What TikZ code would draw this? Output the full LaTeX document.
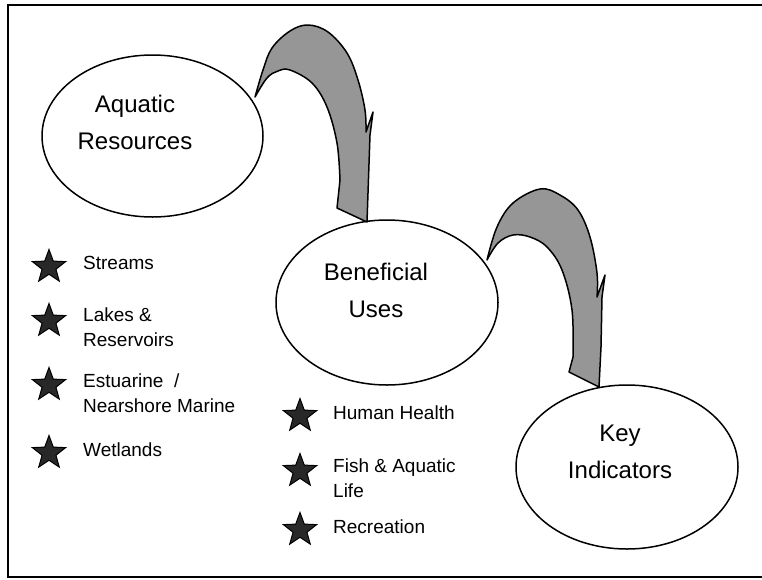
\documentclass[tikz,border=0pt]{standalone}
\usepackage{fontspec}
\setmainfont{Liberation Sans}
\usetikzlibrary{shapes.geometric}
\definecolor{arrowgray}{RGB}{150,150,150}
\definecolor{stargray}{RGB}{40,40,40}
\tikzset{
  bubble/.style={ellipse, draw=black, line width=1.5pt, inner sep=0pt, outer sep=0pt},
  bubbletext/.style={align=center, font=\fontsize{24}{37}\selectfont, inner sep=0pt},
  bulletstar/.style={star, star points=5, star point ratio=2.4, minimum size=35pt, inner sep=0pt, fill=stargray, draw=black, line width=1pt},
  itemtext/.style={anchor=west, align=left, font=\fontsize{19}{25.5}\selectfont, inner sep=0pt},
  bigarrow/.style={fill=arrowgray, draw=black, line width=1.5pt, line join=round},
}
\begin{document}
\begin{tikzpicture}[x=1pt,y=-1pt]
\useasboundingbox (0,0) rectangle (762,579);
\draw[line width=2.2pt] (8,5) rectangle (775,577);

% ellipses
\node[bubble, minimum width=221pt, minimum height=162pt] (aq) at (152.5,136) {};
\node[bubble, minimum width=222pt, minimum height=165pt] (bu) at (387,302.5) {};
\node[bubble, minimum width=222pt, minimum height=164pt] (ki) at (627,467) {};

\node[bubbletext] (aqt) at (135,122) {Aquatic\\Resources};
\node[bubbletext] (but) at (376,290) {Beneficial\\Uses};
\node[bubbletext] (kit) at (620,452) {Key\\Indicators};

% arrows
\filldraw[bigarrow] plot[smooth, tension=0.6] coordinates {(255,97) (263,70) (272,48) (290,31) (308,25) (328,32) (347,53) (358,80) (365,110) (366,132)}
  -- (373,112) -- (370,135) -- (367,222) -- (337,208)
  -- plot[smooth, tension=0.6] coordinates {(340,180) (337,143) (327,107) (312,83) (290,70) (278,71) (267,78) (255,97)} -- cycle;

\filldraw[bigarrow] plot[smooth, tension=0.6] coordinates {(487,260) (497,227) (513,203) (540,189) (560,195) (578,210) (590,237) (597,273) (597,297)}
  -- (605,275) -- (602,297) -- (601,347) -- (599,387) -- (569,372)
  -- plot[smooth, tension=0.6] coordinates {(573,357) (572,310) (562,270) (547,247) (530,237) (513,235) (498,243) (487,260)} -- cycle;

% left list
\node[bulletstar] (st1) at (49,267) {};
\node[itemtext] (tx1) at (83,263) {Streams};
\node[bulletstar] (st2) at (49,321) {};
\node[itemtext] (tx2) at (83,327) {Lakes \&\\Reservoirs};
\node[bulletstar] (st3) at (49,385) {};
\node[itemtext] (tx3) at (83,393) {Estuarine\ \ /\\Nearshore Marine};
\node[bulletstar] (st4) at (49,453) {};
\node[itemtext] (tx4) at (83,450) {Wetlands};

% right list
\node[bulletstar] (st5) at (300,416) {};
\node[itemtext] (tx5) at (333,413) {Human Health};
\node[bulletstar] (st6) at (300,471) {};
\node[itemtext] (tx6) at (333,478) {Fish \& Aquatic\\Life};
\node[bulletstar] (st7) at (300,530) {};
\node[itemtext] (tx7) at (333,527) {Recreation};
\end{tikzpicture}
\end{document}
